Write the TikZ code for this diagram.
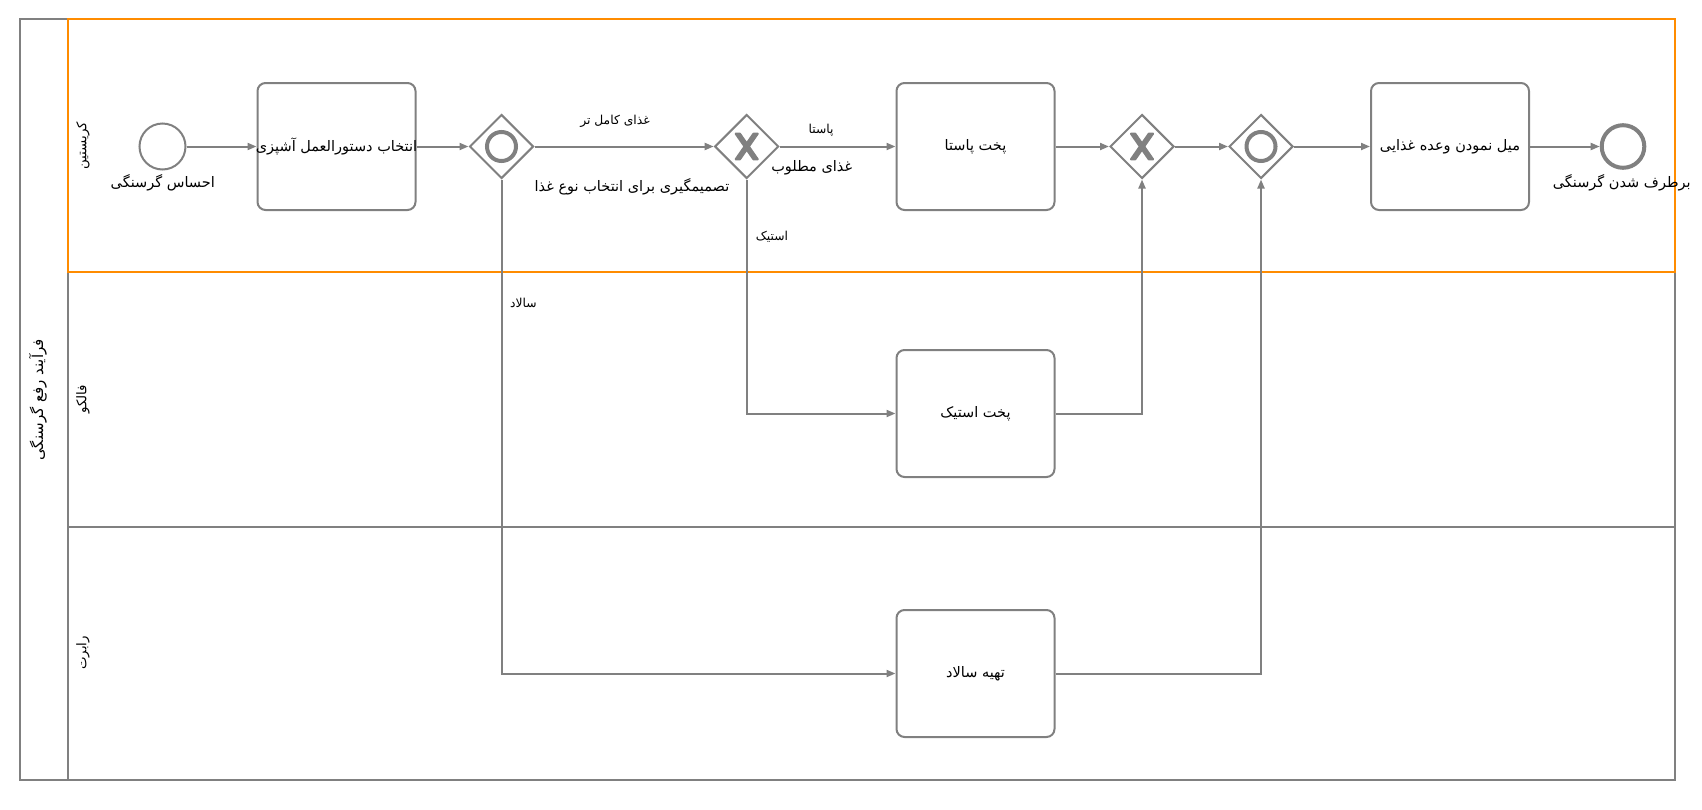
\documentclass[tikz,border=0pt]{standalone}
\usepackage{fontspec}
\newfontfamily\fa[Script=Arabic]{DejaVu Sans}
\TeXXeTstate=1
\usetikzlibrary{arrows.meta,shapes.geometric}
\definecolor{lg}{RGB}{128,128,128}
\definecolor{og}{RGB}{255,140,0}
\newcommand{\fatxt}[1]{\beginR #1\endR}
\newcommand{\xmarker}[1]{\filldraw[lg, line width=2.2pt, line join=round, shift={(#1)}, xscale=1.2, yscale=1.32]
  (-9.15,-9.71) -- (-1.72,0) -- (-9.15,9.71) -- (-5.72,9.71) -- (0,2.25) -- (5.72,9.71) -- (9.15,9.71)
  -- (1.72,0) -- (9.15,-9.71) -- (5.72,-9.71) -- (0,-2.25) -- (-5.72,-9.71) -- cycle;}
\newcommand{\omarker}[1]{\draw[lg, line width=4pt] (#1) circle[radius=14.5pt];}
\tikzset{
  flowline/.style={draw=lg, line width=2pt, -{Triangle[length=9pt,width=7pt]}},
  laneline/.style={draw=lg, line width=2.5pt},
  taskbox/.style={draw=lg, line width=2pt, rounded corners=8pt, minimum width=158pt, minimum height=127pt, inner sep=0pt, fill=white},
  gate/.style={diamond, aspect=1, draw=lg, line width=2pt, minimum width=64pt, minimum height=64pt, inner sep=0pt, fill=white},
  startev/.style={circle, draw=lg, line width=2pt, minimum size=46pt, inner sep=0pt, fill=white},
  endev/.style={circle, draw=lg, line width=4pt, minimum size=42.6pt, inner sep=0pt, fill=white},
  txt/.style={font=\fa\fontsize{14.5}{16}\selectfont, inner sep=0pt, text=black},
  smalltxt/.style={font=\fa\fontsize{12.3}{14}\selectfont, inner sep=0pt, text=black},
  lanetxt/.style={font=\fa\fontsize{13.3}{15}\selectfont, inner sep=0pt, text=black, rotate=90},
}
\begin{document}
\begin{tikzpicture}[x=1pt,y=-1pt]
\useasboundingbox (0,0) rectangle (1702,809);
% pool and lanes
\draw[laneline] (20,19) rectangle (1675,780);
\draw[laneline] (68,19) -- (68,780);
\draw[laneline] (68,272) -- (1675,272);
\draw[laneline] (68,527) -- (1675,527);
\draw[draw=og, line width=2.5pt] (68,19) rectangle (1675,272);
\node[lanetxt, font=\fa\fontsize{15}{17}\selectfont] (pool) at (38,400) {\fatxt{فرآیند رفع گرسنگی}};
\node[lanetxt] (lane1) at (83,146) {\fatxt{کریستین}};
\node[lanetxt] (lane2) at (83,399) {\fatxt{فالکو}};
\node[lanetxt] (lane3) at (83,653) {\fatxt{رابرت}};
% elements
\node[startev] (start) at (162.5,146.5) {};
\node[taskbox] (t1) at (336.5,146.5) {};
\node[gate] (g1) at (501.5,146.5) {};
\node[gate] (g2) at (746.7,146.5) {};
\node[taskbox] (tp) at (975.5,146.5) {};
\node[gate] (g3) at (1142,146.5) {};
\node[gate] (g4) at (1261,146.5) {};
\node[taskbox] (tm) at (1450,146.5) {};
\node[endev] (end) at (1623,146.5) {};
\node[taskbox] (ts) at (975.5,413.5) {};
\node[taskbox] (tsal) at (975.5,673.5) {};
\omarker{g1}
\omarker{g4}
\xmarker{g2}
\xmarker{g3}
% flows
\draw[flowline] (start) -- (t1);
\draw[flowline] (t1) -- (g1);
\draw[flowline] (g1) -- (g2);
\draw[flowline] (g1.south) |- (tsal.west);
\draw[flowline] (g2) -- (tp);
\draw[flowline] (g2.south) |- (ts.west);
\draw[flowline] (tp) -- (g3);
\draw[flowline] (ts.east) -| (g3.south);
\draw[flowline] (g3) -- (g4);
\draw[flowline] (tsal.east) -| (g4.south);
\draw[flowline] (g4) -- (tm);
\draw[flowline] (tm) -- (end);
% texts
\node[txt] (t1l) at (t1) {\fatxt{انتخاب دستورالعمل آشپزی}};
\node[txt] (tpl) at (tp) {\fatxt{پخت پاستا}};
\node[txt] (tml) at (tm) {\fatxt{میل نمودن وعده غذایی}};
\node[txt] (tsl) at (ts) {\fatxt{پخت استیک}};
\node[txt] (tsall) at (tsal) {\fatxt{تهیه سالاد}};
\node[txt] (startl) at (162.8,182.7) {\fatxt{احساس گرسنگی}};
\node[txt] (endl) at (1621.7,182.7) {\fatxt{برطرف شدن گرسنگی}};
\node[txt] (g1l) at (632,187) {\fatxt{تصمیمگیری برای انتخاب نوع غذا}};
\node[txt] (g2l) at (811.7,168) {\fatxt{غذای مطلوب}};
\node[smalltxt] (f1) at (615,121) {\fatxt{غذای کامل تر}};
\node[smalltxt] (f2) at (821,130) {\fatxt{پاستا}};
\node[smalltxt] (f3) at (772,237) {\fatxt{استیک}};
\node[smalltxt] (f4) at (523.5,302.5) {\fatxt{سالاد}};
\end{tikzpicture}
\end{document}
